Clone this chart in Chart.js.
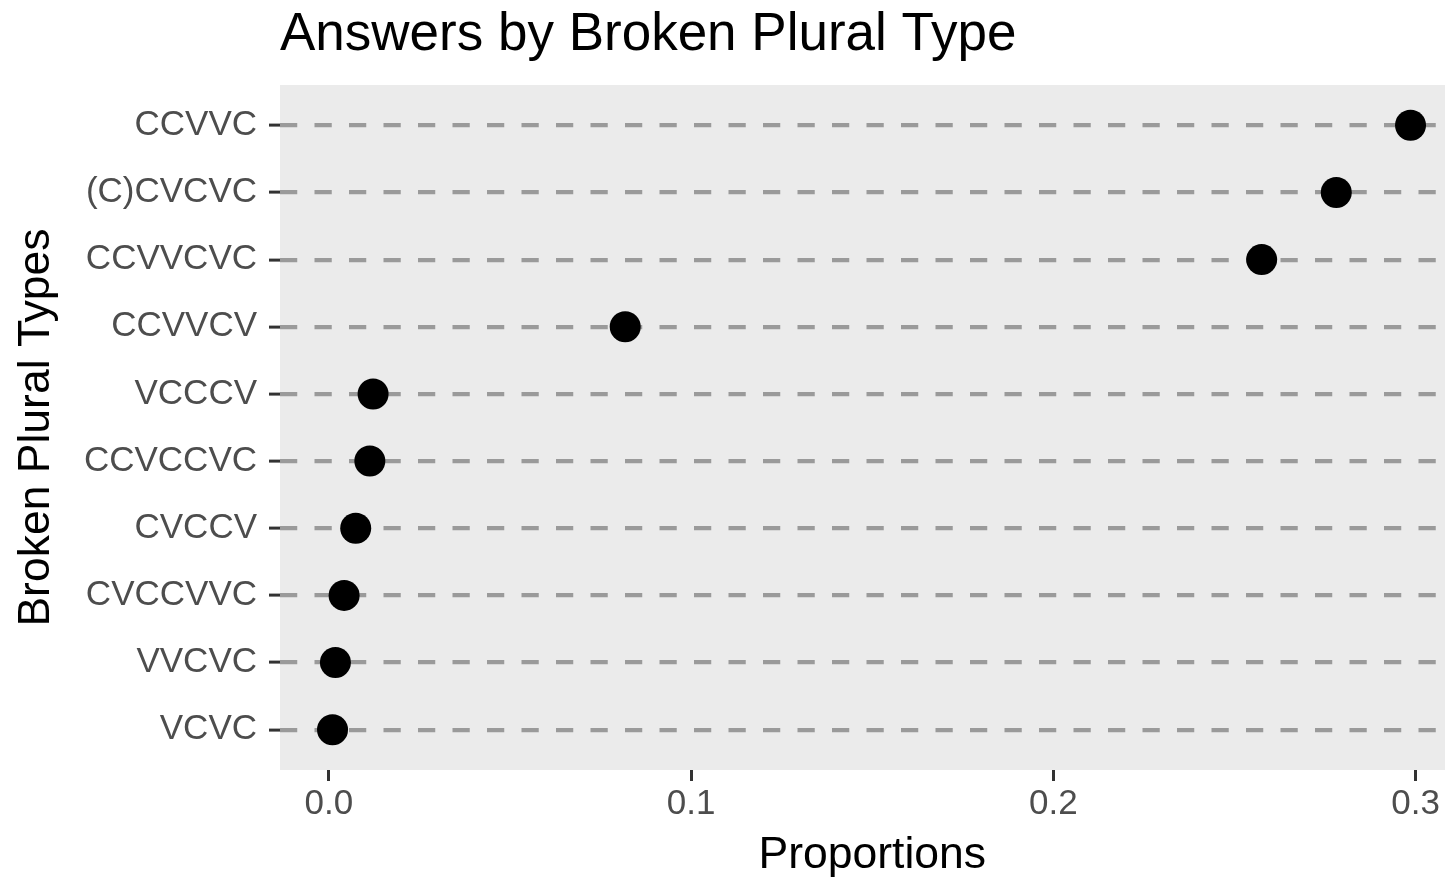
<!DOCTYPE html>
<html>
<head>
<meta charset="utf-8">
<script src="https://cdn.jsdelivr.net/npm/chart.js@4/dist/chart.umd.min.js"></script>
<style>
  html, body { margin: 0; padding: 0; background: #ffffff; overflow: hidden; }
  #wrap { width: 1480px; height: 879px; }
</style>
</head>
<body>
<div id="wrap"><canvas id="c" width="1480" height="879"></canvas></div>
<script>
// Categories listed top to bottom as in the chart
const categories = ["CCVVC", "(C)CVCVC", "CCVVCVC", "CCVVCV", "VCCCV", "CCVCCVC", "CVCCV", "CVCCVVC", "VVCVC", "VCVC"];
const proportions = [0.2986, 0.2781, 0.2575, 0.0818, 0.0122, 0.0113, 0.0074, 0.0042, 0.0018, 0.0010];
const xTicks = [0.0, 0.1, 0.2, 0.3];
const chartTitle = "Answers by Broken Plural Type";
const xTitle = "Proportions";
const yTitle = "Broken Plural Types";

const points = categories.map((c, i) => ({ x: proportions[i], y: i }));

const panelBg = {
  id: 'panelBg',
  beforeDraw(chart) {
    const { ctx, chartArea: a } = chart;
    ctx.save();
    ctx.fillStyle = '#ebebeb';
    ctx.fillRect(a.left, a.top, a.right - a.left, a.bottom - a.top);
    ctx.restore();
  }
};

const FONT = "'Liberation Sans', Arial, Helvetica, sans-serif";

new Chart(document.getElementById('c'), {
  type: 'scatter',
  data: {
    datasets: [{
      data: points,
      backgroundColor: '#000000',
      borderColor: '#000000',
      borderWidth: 0,
      pointRadius: 15.5,
      pointHoverRadius: 15.5
    }]
  },
  options: {
    responsive: false,
    animation: false,
    devicePixelRatio: 1,
    layout: { padding: { top: 0, left: 0, right: 6, bottom: 0 } },
    plugins: {
      legend: { display: false },
      tooltip: { enabled: false },
      title: {
        display: true,
        text: chartTitle,
        align: 'start',
        fullSize: false,
        color: '#000000',
        font: { family: FONT, size: 53, weight: 'normal', lineHeight: 1.2 },
        padding: { top: 4, bottom: 17.4 }
      }
    },
    scales: {
      x: {
        type: 'linear',
        position: 'bottom',
        min: -0.0135,
        max: 0.3135,
        afterBuildTicks(scale) { scale.ticks = xTicks.map(v => ({ value: v })); },
        afterFit(scale) { scale.height = 109; scale.paddingLeft = 0; scale.paddingRight = 0; },
        ticks: {
          callback: (v) => Number(v).toFixed(1),
          color: '#4d4d4d',
          font: { family: FONT, size: 35, lineHeight: 1.2 },
          padding: 2.6,
          maxRotation: 0,
          autoSkip: false
        },
        grid: {
          display: true,
          drawOnChartArea: false,
          drawTicks: true,
          tickLength: 11,
          tickWidth: 3,
          tickColor: '#333333'
        },
        border: { display: false },
        title: {
          display: true,
          text: xTitle,
          color: '#000000',
          font: { family: FONT, size: 44.5, lineHeight: 1.2 },
          padding: { top: 0, bottom: -3 }
        }
      },
      y: {
        type: 'linear',
        position: 'left',
        reverse: true,
        min: -0.6,
        max: 9.6,
        afterBuildTicks(scale) { scale.ticks = categories.map((c, i) => ({ value: i })); },
        afterFit(scale) { scale.width = 280; scale.paddingTop = 0; scale.paddingBottom = 0; },
        ticks: {
          callback: (v) => categories[v],
          color: '#4d4d4d',
          font: { family: FONT, size: 35, lineHeight: 1.2 },
          padding: 12,
          autoSkip: false
        },
        grid: {
          display: true,
          drawOnChartArea: true,
          drawTicks: true,
          color: '#9a9a9a',
          lineWidth: 4.2,
          tickLength: 11,
          tickWidth: 3,
          tickColor: '#333333',
          tickBorderDash: []
        },
        border: { display: false, dash: [17.25, 17.25], dashOffset: 0 },
        title: {
          display: true,
          text: yTitle,
          color: '#000000',
          font: { family: FONT, size: 44.5, lineHeight: 1.2 },
          padding: { top: 10.3, bottom: 0 }
        }
      }
    }
  },
  plugins: [panelBg]
});
</script>
</body>
</html>
